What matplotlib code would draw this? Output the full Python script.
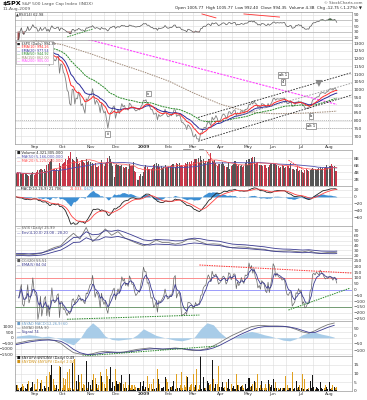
import numpy as np
import pandas as pd
import matplotlib
matplotlib.use("Agg")
import matplotlib.pyplot as plt
from matplotlib.patches import Rectangle

# trading calendar 11-Aug-2008 .. end of Aug 2009 (NYSE holidays removed)
holidays = ["2008-09-01", "2008-11-27", "2008-12-25", "2009-01-01", "2009-01-19",
            "2009-02-16", "2009-04-10", "2009-05-25", "2009-07-03"]
cal = pd.bdate_range("2008-08-11", "2009-09-04")
cal = cal[~cal.isin(pd.to_datetime(holidays))]

# $SPX daily closes
close = [
    1305, 1290, 1285, 1293, 1298, 1278, 1267, 1275, 1277, 1292, 1266, 1271, 1281, 1300, 1283,  # Aug 08
    1277, 1275, 1237, 1242, 1267, 1225, 1231, 1249, 1252, 1193, 1214, 1156, 1207, 1255, 1208,
    1189, 1186, 1209, 1213, 1106, 1166,  # Sep
    1161, 1114, 1099, 1056, 996, 985, 910, 899, 1003, 998, 908, 946, 941, 986, 955, 897, 909,
    877, 848, 941, 930, 954, 969,  # Oct
    966, 1006, 953, 905, 931, 919, 899, 852, 912, 873, 850, 860, 807, 752, 800, 852, 857, 887, 896,  # Nov
    816, 849, 870, 846, 876, 910, 889, 899, 874, 880, 868, 913, 905, 886, 888, 872, 863, 868,
    873, 870, 890, 903,  # Dec
    932, 927, 935, 907, 910, 891, 871, 872, 843, 844, 850, 806, 840, 828, 832, 837, 846, 874, 846, 826,  # Jan 09
    826, 838, 832, 845, 869, 870, 828, 834, 836, 827, 790, 789, 778, 770, 743, 774, 765, 753, 735,  # Feb
    700, 696, 713, 683, 683, 677, 720, 721, 751, 757, 753, 778, 795, 785, 769, 823, 807, 814,
    833, 816, 788, 798,  # Mar
    811, 835, 843, 836, 815, 826, 857, 858, 842, 852, 866, 870, 833, 851, 843, 851, 866, 858, 855, 873, 873,  # Apr
    878, 907, 903, 919, 907, 930, 909, 908, 884, 893, 882, 910, 908, 903, 889, 887, 911, 893, 906, 919,  # May
    942, 945, 932, 942, 940, 939, 943, 940, 945, 946, 923, 911, 910, 918, 921, 893, 895, 900,
    920, 918, 927, 919,  # Jun
    923, 897, 898, 882, 879, 882, 879, 901, 905, 933, 940, 940, 951, 954, 955, 976, 979, 982,
    979, 975, 986, 987,  # Jul
    1002, 1006, 1003, 997, 1010, 1007, 994.35,  # Aug 09
]

# volume, billions
volume = [
    3.6, 3.9, 3.8, 3.7, 3.3, 3.4, 3.6, 3.6, 3.5, 3.1, 3.0, 3.2, 3.8, 3.9, 3.2,
    3.8, 4.0, 4.6, 4.7, 4.8, 5.0, 4.7, 4.8, 4.4, 6.0, 6.4, 6.8, 7.2, 7.6, 5.0, 4.8, 4.7, 5.0, 4.2, 6.6, 5.8,
    6.3, 6.5, 6.8, 7.8, 7.5, 8.6, 7.9, 9.6, 7.8, 7.5, 7.2, 8.2, 7.8, 6.4, 6.7, 7.5, 7.4, 7.0, 6.5, 7.6, 7.0, 7.2, 6.9,
    5.6, 6.5, 6.3, 6.6, 5.5, 5.4, 5.6, 6.6, 7.5, 6.2, 5.8, 6.6, 6.9, 8.0, 8.5, 7.6, 6.8, 5.7, 2.6,
    6.0, 6.2, 6.0, 5.6, 5.7, 5.9, 5.4, 5.2, 5.5, 5.3, 4.9, 6.4, 5.8, 5.6, 6.9, 4.3, 3.9, 1.8, 1.7, 2.8, 3.4, 3.0,
    4.0, 5.4, 6.0, 5.3, 5.0, 5.0, 4.8, 5.1, 5.9, 6.2, 6.7, 5.8, 6.4, 5.5, 5.6, 5.2, 5.3, 6.0, 5.4, 5.5,
    5.3, 5.8, 6.0, 6.2, 6.3, 5.5, 6.5, 6.4, 6.6, 5.8, 5.9, 5.6, 5.7, 6.7, 6.4, 7.0, 6.8, 6.3, 7.2,
    7.0, 7.6, 7.8, 7.6, 8.1, 6.5, 8.6, 7.4, 7.6, 6.7, 7.2, 6.9, 7.6, 7.8, 9.5, 7.2, 6.9, 7.4, 6.6, 5.8, 6.2, 6.4,
    6.2, 7.0, 6.4, 5.6, 5.4, 5.5, 6.8, 5.0, 5.6, 6.1, 6.3, 7.1, 6.2, 5.8, 5.9, 5.8, 5.9, 5.5, 5.7, 6.6, 7.3,
    6.1, 7.6, 6.6, 8.1, 8.2, 8.2, 6.4, 6.5, 6.8, 6.0, 5.9, 6.0, 5.8, 6.0, 6.1, 5.2, 5.4, 6.0, 6.4, 6.5,
    6.2, 6.4, 6.3, 6.0, 5.8, 5.2, 5.5, 6.0, 5.6, 5.1, 5.4, 5.6, 5.7, 5.2, 6.6, 5.0, 4.8, 4.6, 4.9, 5.4, 4.4, 4.6,
    4.5, 3.9, 3.6, 4.6, 4.9, 4.6, 4.2, 4.5, 4.9, 5.2, 4.9, 4.8, 4.6, 4.9, 5.2, 5.5, 5.0, 5.2, 5.1, 5.4, 6.0, 5.1,
    5.6, 5.6, 6.3, 5.8, 5.8, 4.2, 4.3,
]

# $NYUPV:$NYDNV daily ratio (the gold bars are its inverse)
up_dn = [
    3.5, 0.3, 0.5, 1.8, 2.2, 0.25, 0.35, 2.0, 1.3, 4.0, 0.18, 1.6, 2.5, 5.0, 0.25,
    0.7, 0.8, 0.15, 1.3, 4.5, 0.16, 1.4, 2.6, 1.5, 0.12, 2.2, 0.09, 9.0, 15.0, 0.15, 0.3, 0.6, 3.5, 1.2, 0.07, 14.0,
    0.6, 0.13, 0.3, 0.14, 0.09, 0.5, 0.08, 0.6, 16.0, 0.7, 0.055, 6.0, 0.8, 9.0, 0.2, 0.1, 2.0, 0.25, 0.3, 17.0,
    0.6, 5.0, 3.5,
    0.7, 6.5, 0.1, 0.13, 4.0, 0.5, 0.3, 0.09, 8.5, 0.2, 0.25, 1.6, 0.08, 0.12, 7.0, 14.0, 1.5, 5.0, 3.0,
    0.08, 5.5, 4.0, 0.2, 4.5, 9.0, 0.25, 2.0, 0.2, 1.8, 0.3, 10.0, 0.5, 0.3, 1.2, 0.3, 0.4, 1.5, 1.6, 0.6, 5.0, 3.0,
    6.0, 0.7, 2.2, 0.12, 1.5, 0.25, 0.25, 1.3, 0.15, 1.2, 2.0, 0.08, 7.0, 0.25, 1.6, 1.8, 2.5, 8.0, 0.15, 0.2,
    0.9, 2.5, 0.4, 3.0, 6.0, 1.1, 0.1, 1.5, 1.7, 0.3, 0.09, 0.6, 0.3, 0.4, 0.12, 8.0, 0.4, 0.3, 0.25,
    0.1, 0.4, 3.5, 0.08, 0.8, 0.3, 20.0, 1.2, 8.0, 2.0, 0.6, 6.0, 4.5, 0.3, 0.25, 18.0, 0.15, 2.0, 4.0, 0.25, 0.07, 2.5,
    2.5, 5.0, 2.0, 0.4, 0.2, 1.8, 7.0, 1.1, 0.25, 2.0, 3.0, 1.2, 0.1, 3.5, 0.3, 2.5, 3.0, 0.3, 0.5, 4.0, 1.0,
    1.8, 7.5, 0.4, 3.0, 0.25, 5.5, 0.2, 0.6, 0.1, 2.0, 0.3, 6.0, 0.6, 0.5, 0.25, 0.5, 6.5, 0.25, 2.5, 3.5,
    7.0, 1.5, 0.2, 2.0, 0.6, 0.7, 1.6, 0.6, 1.8, 1.5, 0.12, 0.3, 0.6, 2.0, 1.5, 0.09, 1.4, 1.6, 6.0, 0.6, 2.2, 0.3,
    1.5, 0.1, 1.1, 0.15, 0.7, 1.4, 0.5, 6.0, 1.8, 9.0, 2.2, 0.7, 2.5, 1.6, 1.2, 5.0, 1.5, 1.3, 0.5, 0.3, 2.5, 1.1,
    5.0, 1.4, 0.5, 0.3, 2.5, 0.5, 0.49,
]

# $VIX, every 5th session, then the last session
vix = [20.9, 21.3, 20.0, 21.9, 24.0, 30.3, 35.7, 39.4, 53.7, 65.0, 53.1, 77.0, 47.7, 59.0,
       74.0, 60.9, 68.5, 55.7, 49.8, 44.2, 39.2, 43.0, 51.0, 45.8, 45.7, 42.6, 45.5, 52.6,
       52.6, 47.1, 42.4, 43.2, 42.3, 36.9, 35.3, 36.8, 36.5, 34.4, 32.9, 32.0, 28.9, 28.0,
       28.2, 29.0, 27.3, 26.4, 29.0, 25.0, 23.9, 25.3, 25.2, 25.99]

# $NYAD indicator panel, every 5th session
ad_line = [-51, -42, -32, -28, -23, -23, -32, -51, -86, -116, -125, -130, -123, -111, -106,
           -111, -116, -111, -102, -93, -88, -83, -88, -93, -88, -83, -88, -97, -102, -97,
           -88, -69, -46, -19, 5, 25, 46, 65, 72, 72, 69, 69, 67, 60, 46, 28, 19, 37, 60, 79, 90]
ad_signal = [-60, -51, -42, -35, -30, -28, -30, -37, -60, -93, -116, -127, -130, -123, -116,
             -113, -113, -113, -109, -102, -95, -90, -88, -90, -90, -88, -88, -93, -97, -100,
             -95, -83, -65, -42, -19, 5, 25, 44, 58, 65, 67, 67, 67, 62, 53, 39, 25, 25, 42, 60, 74]
ad_hist = [150, 220, 280, 220, 90, 150, 30, -150, -460, -650, -90, 830, 1390, 900, 150, -150,
           -220, -150, -90, 280, 830, 520, 220, 60, -90, -220, -280, -150, 60, 830, 1390, 1200,
           520, 30, -30, 220, 460, 590, 460, 280, 150, -30, -220, -280, -90, 280, 460, 520, 340, 220, 60]

# long moving averages
ma_dates = ["2008-08-11", "2008-09-02", "2008-10-01", "2008-11-03", "2008-12-01", "2009-01-02",
            "2009-02-02", "2009-03-02", "2009-04-01", "2009-05-01", "2009-06-01", "2009-07-01",
            "2009-08-03", "2009-08-11"]
ma150 = [1335, 1318, 1290, 1230, 1175, 1115, 1055, 980, 905, 858, 845, 848, 858, 862]
ma200 = [1420, 1395, 1355, 1318, 1278, 1230, 1188, 1147, 1100, 1055, 1012, 965, 918, 905]

# hand drawn lines: (start date, start value, end date, end value)
price_channel = [("2009-03-06", 821, "2009-08-26", 1108), ("2009-03-06", 668, "2009-08-28", 968)]
price_mid = [("2009-04-20", 830, "2009-08-28", 1045)]
price_levels = [802, 752]
rsi_red = [("2009-03-11", 93, "2009-03-26", 79), ("2009-04-28", 93, "2009-06-08", 82)]
rsi_green = [("2008-10-07", 11, "2008-11-04", 39)]
cci_red = [("2009-03-09", 210, "2009-08-27", 141)]
cci_green = [("2008-10-07", -255, "2009-03-09", -219), ("2009-06-17", -176, "2009-08-25", 10)]
vol_red = [("2009-03-16", 10.3, "2009-03-27", 5.4), ("2009-06-17", 7.4, "2009-07-06", 4.6)]
ad_green = [("2008-10-23", -139, "2009-03-30", -69)]

wave_dates = ["2008-11-20", "2009-01-08", "2009-06-11", "2009-06-11", "2009-07-14",
              "2009-07-14", "2009-02-23", "2009-03-10"]
wave_vals = [713, 975, 1096, 1051, 828, 764, 600, 600]
wave_text = ["iii", "iv", "alt 1", "4", "b", "alt 1", "(c)", "2"]

month_text = ["Sep", "Oct", "Nov", "Dec", "2009", "Feb", "Mar", "Apr", "May", "Jun", "Jul", "Aug"]

# ---------------------------------------------------------------
n = len(close)
days = cal[:n]
x = np.arange(n)


def pos(dates):
    return np.searchsorted(cal.values, pd.to_datetime(dates).values)


mon = days.month
month_pos = [i for i in range(1, n) if mon[i] != mon[i - 1]]
mid_pos = [i for i in range(1, n) if days[i].day >= 15 and days[i - 1].day < 15]

s = pd.Series(close, dtype=float)
ema10 = s.ewm(span=10, adjust=False).mean()
ema20 = s.ewm(span=20, adjust=False).mean()
ema50 = s.ewm(span=50, adjust=False).mean()

d = s.diff()
g = d.clip(lower=0).ewm(alpha=1 / 14).mean()
l = (-d.clip(upper=0)).ewm(alpha=1 / 14).mean()
rsi = 100 - 100 / (1 + g / l)

macd = s.ewm(span=12, adjust=False).mean() - s.ewm(span=26, adjust=False).mean()
sig = macd.ewm(span=9, adjust=False).mean()
hist = macd - sig

sma20 = s.rolling(20, min_periods=3).mean()
mad = s.rolling(20, min_periods=3).apply(lambda v: np.mean(np.abs(v - v.mean())), raw=True)
cci = (s - sma20) / (0.015 * mad)
cci_ma = cci.ewm(span=5).mean()

vol = pd.Series(volume)
vol_ma50 = vol.rolling(50, min_periods=1).mean()
vol_ma20 = vol.rolling(20, min_periods=1).mean()
vol_col = ["#c8384a" if (i > 0 and close[i] < close[i - 1]) else "#555555" for i in range(n)]

ud = np.array(up_dn)
du = 1 / ud

vix_x = np.r_[np.arange(0, 251, 5), n - 1]
vs = pd.Series(vix)
env_mid = vs.ewm(span=4).mean()
ad_x = np.arange(0, 251, 5)

# ---------------------------------------------------------------
W, H = 367, 400
L, R = 15, 352
fig = plt.figure(figsize=(W / 100, H / 100), dpi=100)
plt.rcParams["font.family"] = ["DejaVu Sans"]
FS = 3.2
LFS = 2.6   # panel legend text


def panel(top, bot):
    ax = fig.add_axes([L / W, 1 - bot / H, (R - L) / W, (bot - top) / H])
    ax.set_xlim(-1, 264)
    for sp in ax.spines.values():
        sp.set_color("#9a9a9a")
        sp.set_linewidth(0.5)
    ax.set_xticks(month_pos)
    ax.set_xticks(mid_pos, minor=True)
    ax.tick_params(axis="both", which="both", length=0, labelsize=FS, pad=1,
                   labelleft=False, labelright=True, labelbottom=False, colors="#333333")
    ax.grid(True, which="both", color="#dcdcdc", lw=0.4)
    ax.set_axisbelow(True)
    return ax


def ftext(xp, yp, txt, **kw):
    kw.setdefault("fontsize", FS)
    kw.setdefault("va", "center")
    fig.text(xp / W, 1 - yp / H, txt, **kw)


def draw_lines(ax, segs, **kw):
    for d0, v0, d1, v1 in segs:
        ax.plot(pos([d0, d1]), [v0, v1], **kw)


# header
ftext(3, 4, "$SPX", fontsize=4.6, weight="bold")
ftext(22, 4, "S&P 500 Large Cap Index (INDX)", color="#555555")
ftext(3, 8.7, "11-Aug-2009", color="#555555")
ftext(362, 3, "\u00a9 StockCharts.com", ha="right", color="#555555", fontsize=2.8)
ftext(362, 8, "Open 1005.77  High 1005.77  Low 992.40  Close 994.35  Volume 4.3B  Chg -12.75 (-1.27%) \u25bc",
      ha="right", color="#222222", fontsize=2.9)

# RSI
ax = panel(12, 40)
ax.plot(x, rsi, color="#555555", lw=0.5)
ax.fill_between(x, rsi, 70, where=rsi >= 70, interpolate=True, color="#3d7a3d", lw=0)
ax.fill_between(x, rsi, 30, where=rsi <= 30, interpolate=True, color="#a04a4a", lw=0)
ax.axhline(70, color="#aaaaaa", lw=0.4)
ax.axhline(30, color="#aaaaaa", lw=0.4)
draw_lines(ax, rsi_red, color="#ff3030", lw=0.6)
draw_lines(ax, rsi_green, color="#2a8a2a", lw=0.6, ls=(0, (2, 1)))
ax.set_ylim(0, 100)
ax.set_yticks([10, 30, 50, 70, 90])
ftext(16, 14.5, "\u25b2RSI(14) %.2f" % rsi.iloc[-1], color="#333333", fontsize=LFS)

# price
ax = panel(40, 144)
ax.plot(x, s, color="#808080", lw=0.6)
ax.plot(pos(ma_dates), ma150, color="#a08a78", lw=0.7, ls=(0, (1.5, 1)))
ax.plot(pos(ma_dates), ma200, color="#ff44ff", lw=0.8, ls=(0, (2, 1)))
ax.plot(x, ema50, color="#2a8a2a", lw=0.7, ls=(0, (2, 0.8)))
ax.plot(x, ema20, color="#2b2b9a", lw=0.7)
ax.plot(x, ema10, color="#ff2a2a", lw=0.7)
for v in price_levels:
    ax.axhline(v, color="#a0a0a0", lw=0.5, ls=(0, (1.5, 1.5)))
draw_lines(ax, price_channel, color="#222222", lw=0.6, ls=(0, (2, 1.5)))
draw_lines(ax, price_mid, color="#999999", lw=0.6, ls=(0, (2, 1.5)))
for dt, v, t in zip(wave_dates, wave_vals, wave_text):
    ax.text(pos([dt])[0], v, t, fontsize=2.6, ha="center", va="center", clip_on=False, zorder=6,
            bbox=dict(boxstyle="square,pad=0.25", fc="white", ec="#555555", lw=0.4))
p = pos(["2009-07-22"])[0]
ax.annotate("", xy=(p, 1000), xytext=(p, 1045),
            arrowprops=dict(arrowstyle="simple,head_width=0.5,head_length=0.5,tail_width=0.25",
                            color="#888888", lw=0))
ax.set_ylim(650, 1320)
ax.set_yticks(np.arange(700, 1301, 50))
ax.tick_params(labelbottom=True)
ax.set_xticklabels(month_text)
for lab in ax.get_xticklabels():
    if lab.get_text() == "2009":
        lab.set_fontweight("bold")

fig.patches.append(Rectangle((15.5 / W, 1 - 63.5 / H), 38 / W, 22.5 / H, transform=fig.transFigure,
                             fc="white", ec="#999999", lw=0.4, zorder=5))
legend_rows = [("\u25a0 $SPX (Daily) 994.35", "#222222"),
               ("\u2014 EMA(10) %.2f" % ema10.iloc[-1], "#ff2a2a"),
               ("\u2014 EMA(20) %.2f" % ema20.iloc[-1], "#2b2b9a"),
               ("\u2014 EMA(50) %.2f" % ema50.iloc[-1], "#2a8a2a"),
               ("\u2014 MA(150) %.2f" % ma150[-1], "#a08a78"),
               ("\u2014 MA(200) %.2f" % ma200[-1], "#ff44ff")]
for i, (t, c) in enumerate(legend_rows):
    ftext(17, 43.5 + i * 3.6, t, color=c, fontsize=2.4, zorder=6)

# volume
ax = panel(150, 186)
ax.bar(x, vol, width=0.8, color=vol_col, lw=0)
ax.plot(x, vol_ma50, color="#5050b0", lw=0.6)
ax.plot(x, vol_ma20, color="#ff5050", lw=0.5)
draw_lines(ax, vol_red, color="#ff3030", lw=0.6, ls=(0, (2, 1)))
ax.set_ylim(0, 10.3)
ax.set_yticks([2, 4, 6, 8])
ax.set_yticklabels(["2B", "4B", "6B", "8B"])
ftext(17, 152.5, "\u25a0 Volume 4,321,305,000", color="#222222", fontsize=LFS)
ftext(17, 156.5, "\u2014 MA(50) %s" % f"{vol_ma50.iloc[-1] * 1e9:,.0f}", color="#5050b0", fontsize=LFS)
ftext(17, 160.5, "\u2014 MA(20) %s" % f"{vol_ma20.iloc[-1] * 1e9:,.0f}", color="#ff5050", fontsize=LFS)

# MACD
ax = panel(186, 226)
ax.fill_between(x, hist, 0, color="#3d8fd4", lw=0)
ax.plot(x, macd, color="#222222", lw=0.6)
ax.plot(x, sig, color="#ff4040", lw=0.6)
ax.set_ylim(-83, 31)
ax.set_yticks([20, 0, -20, -40, -60])
ftext(17, 189, "\u2014MACD(12,26,9) %.3f," % macd.iloc[-1], color="#222222", fontsize=LFS)
ftext(70, 189, "%.3f," % sig.iloc[-1], color="#ff4040", fontsize=LFS)
ftext(84, 189, "%.3f" % hist.iloc[-1], color="#3d8fd4", fontsize=LFS)

# VIX with envelope
ax = panel(226, 258)
ax.plot(vix_x, vs, color="#777777", lw=0.6)
ax.plot(vix_x, env_mid * 1.1, color="#3a3a90", lw=0.6)
ax.plot(vix_x, env_mid * 0.9, color="#3a3a90", lw=0.6)
ax.set_ylim(14, 80)
ax.set_yticks([20, 30, 40, 50, 60, 70])
ftext(17, 228.5, "\u2014 $VIX (Daily) %.2f" % vix[-1], color="#555555", fontsize=LFS)
ftext(17, 232.5, "\u2014 Env(4,10.0) %.2f - %.2f" % (env_mid.iloc[-1] * 0.9, env_mid.iloc[-1] * 1.1),
      color="#3a3a90", fontsize=LFS)

# CCI
ax = panel(258, 321)
ax.axhline(100, color="#ff8080", lw=0.6)
ax.axhline(0, color="#9090ff", lw=0.6)
ax.axhline(-150, color="#609060", lw=0.6)
ax.plot(x, cci, color="#666666", lw=0.5)
ax.plot(x, cci_ma, color="#3a3a90", lw=0.6)
draw_lines(ax, cci_red, color="#ff3030", lw=0.7, ls=(0, (1.5, 1)))
draw_lines(ax, cci_green, color="#2a8a2a", lw=0.7, ls=(0, (1.5, 1)))
ax.set_ylim(-270, 270)
ax.set_yticks(np.arange(-250, 251, 50))
ftext(17, 260.5, "\u25a0 CCI(20) %.2f" % cci.iloc[-1], color="#555555", fontsize=LFS)
ftext(17, 264.5, "\u2014 EMA(5) %.2f" % cci_ma.iloc[-1], color="#3a3a90", fontsize=LFS)

# $NYAD panel
ax = panel(321, 356)
ax.fill_between(ad_x, ad_hist, 0, color="#a8cce8", lw=0)
ax.set_ylim(-1685, 1555)
ax.set_yticks([1000, 500, 0, -500, -1000, -1500])
ax.tick_params(labelleft=True, labelright=False)
ax2 = ax.twinx()
ax2.plot(ad_x, ad_line, color="#777777", lw=0.6)
ax2.plot(ad_x, ad_signal, color="#3a3a90", lw=0.6)
draw_lines(ax2, ad_green, color="#2a8a2a", lw=0.7, ls=(0, (1.5, 1)))
ax2.set_ylim(-139, 104)
ax2.set_yticks([50, 0, -50, -100])
ax2.tick_params(length=0, labelsize=FS, pad=1, colors="#333333")
for sp in ax2.spines.values():
    sp.set_visible(False)
ftext(17, 323.5, "\u25a0 $NYAD MACD(12,26,9) %d" % ad_hist[-1], color="#6a9cc8", fontsize=LFS)
ftext(17, 327.5, "\u2014 $NYAD EMA %d" % ad_line[-1], color="#666666", fontsize=LFS)
ftext(17, 331.5, "\u2014 Signal %d" % ad_signal[-1], color="#3a3a90", fontsize=LFS)

# up / down volume ratio
ax = panel(356, 391)
ax.bar(x, du, width=0.8, color="#e0a020", lw=0)
ax.bar(x, ud, width=0.8, color="#151515", lw=0)
ax.set_ylim(0, 20)
ax.set_yticks([0, 5, 10, 15])
ax.tick_params(labelbottom=True)
ax.set_xticklabels(month_text)
for lab in ax.get_xticklabels():
    if lab.get_text() == "2009":
        lab.set_fontweight("bold")
# escaped dollars: two "$" in one string would otherwise switch on mathtext
ftext(17, 358.5, "\u25a0 \\$NYUPV:\\$NYDNV (Daily) %.2f" % ud[-1], color="#151515", fontsize=LFS)
ftext(17, 362.5, "\u25a0 \\$NYDNV:\\$NYUPV (Daily) %.2f" % du[-1], color="#d09010", fontsize=LFS)

fig.savefig("out.png", dpi=100, facecolor="white")
